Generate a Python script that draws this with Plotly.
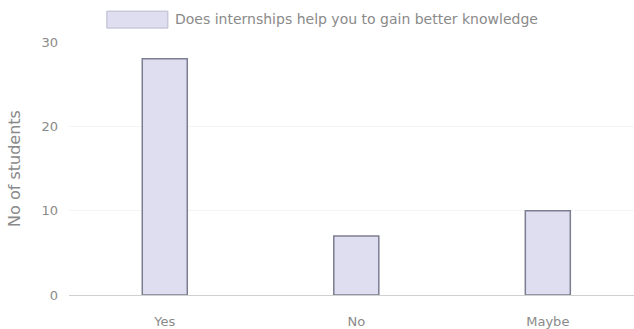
import plotly.graph_objects as go

categories = ["Yes", "No", "Maybe"]
students = [28, 7, 10]
series_name = "Does internships help you to gain better knowledge"
y_ticks = [0, 10, 20, 30]

fill = "rgba(218,218,238,0.9)"
edge = "rgb(125,125,145)"
grey = "#8a8a8a"

fig = go.Figure(
    go.Bar(
        x=categories, y=students, name=series_name,
        marker=dict(color=fill, line=dict(color=edge, width=1.5)),
        width=0.235, showlegend=False,
    )
)

# chart.js style legend box at the top
fig.add_shape(type="rect", xref="paper", yref="paper",
              x0=0.067, x1=0.175, y0=1.122, y1=1.055,
              fillcolor=fill, line=dict(color="rgb(185,185,205)", width=1))
fig.add_annotation(text=series_name, xref="paper", yref="paper",
                   x=0.184, y=1.09, xanchor="left", yanchor="middle",
                   showarrow=False, font=dict(size=14, color=grey))

fig.update_layout(
    width=634, height=329,
    margin=dict(l=69, r=0, t=42, b=34),
    plot_bgcolor="white", paper_bgcolor="white",
    font=dict(family="DejaVu Sans, Arial, sans-serif", size=13, color=grey),
)
fig.update_xaxes(range=[-0.5, 2.45], showgrid=False, showline=True, linecolor="#d0d0d0",
                 ticks="", ticklabelstandoff=14)
fig.update_yaxes(range=[0, 30], tickvals=y_ticks, showgrid=True, gridcolor="#f4f4f4",
                 zeroline=False, automargin=False,
                 title=dict(text="No of students", standoff=16),
                 ticklen=0, ticklabelstandoff=10)

# page body has a default 8px margin, drop it so the figure sits at the corner
fig.write_html("out.html", config={"displayModeBar": False},
               post_script="document.body.style.margin='0';")
